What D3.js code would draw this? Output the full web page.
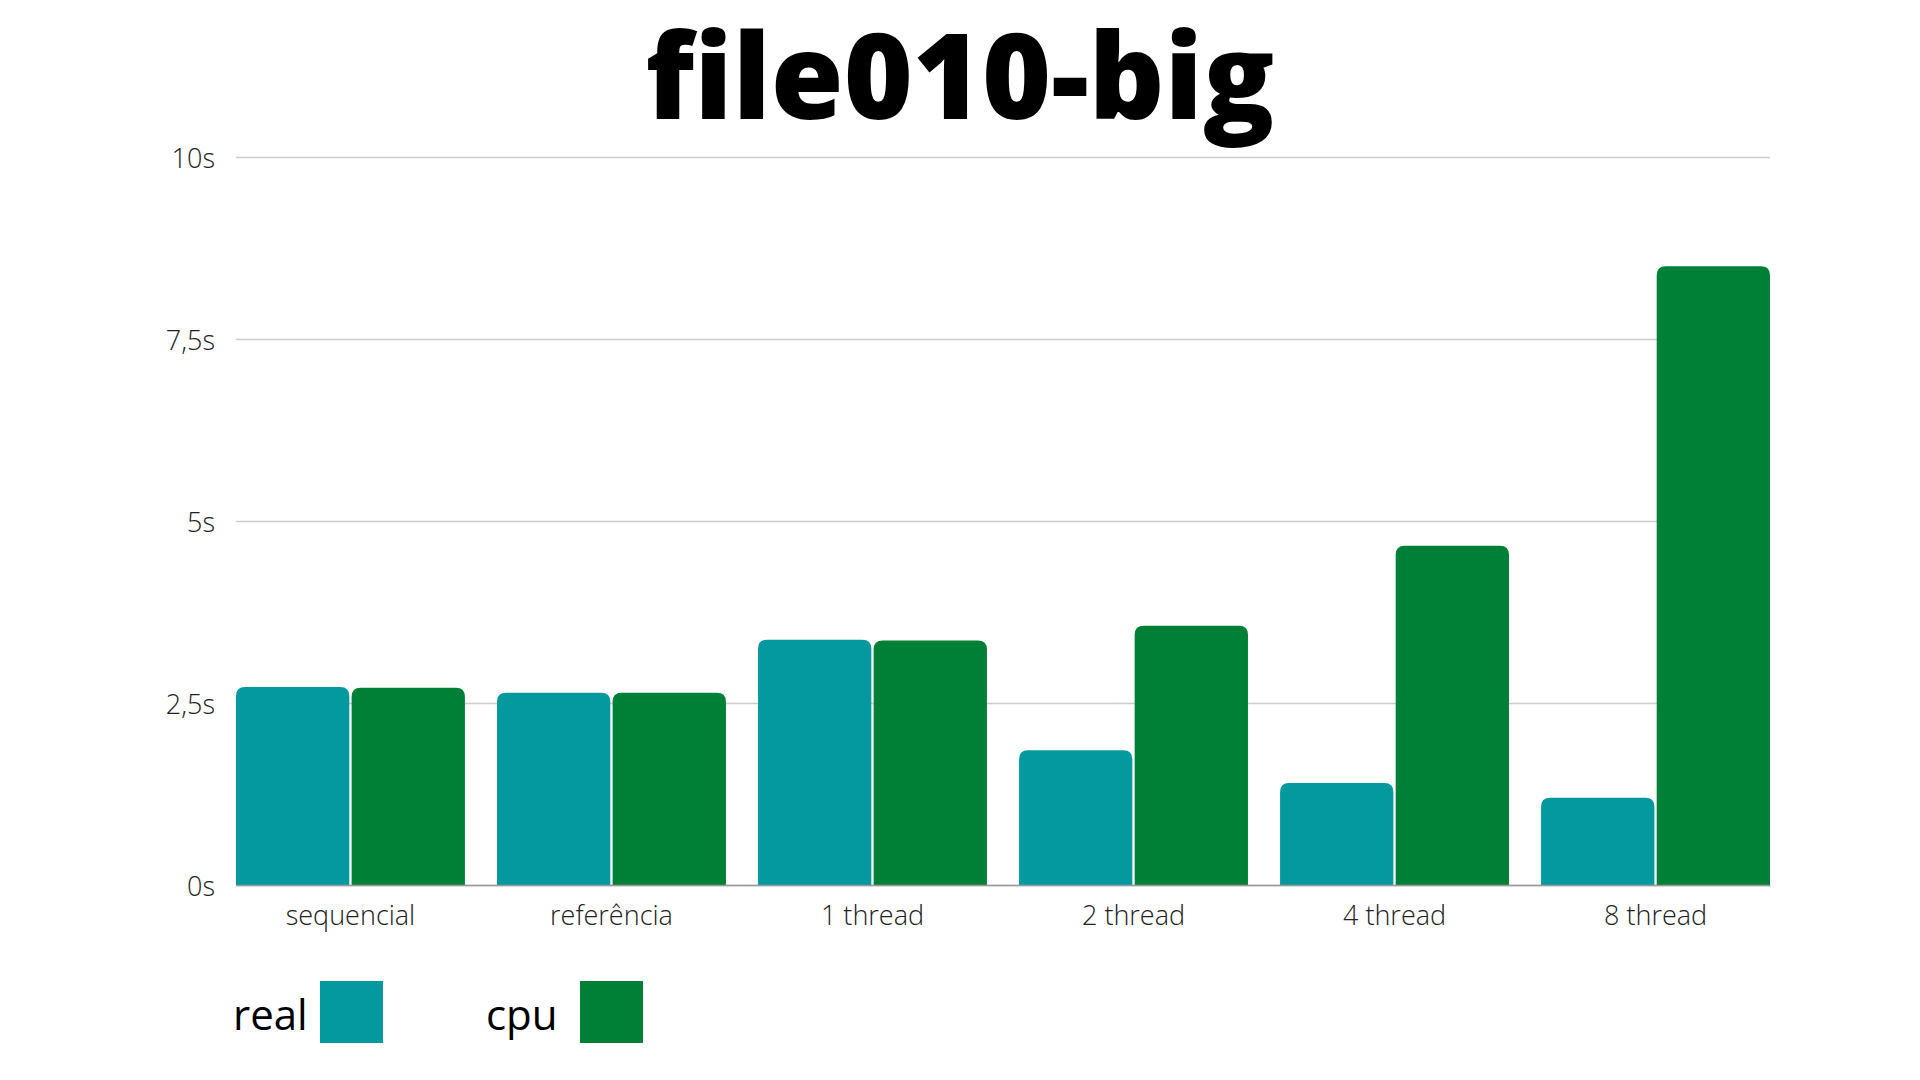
<!DOCTYPE html>
<html>
<head>
<meta charset="utf-8">
<script src="https://cdn.jsdelivr.net/npm/d3@7"></script>
<style>
  html, body { margin: 0; padding: 0; background: #fff; }
  svg { display: block; font-family: "Open Sans", sans-serif; }
</style>
</head>
<body>
<div id="chart"></div>
<script>
// data
var categories = ["sequencial", "referência", "1 thread", "2 thread", "4 thread", "8 thread"];
var realValues = [2.72, 2.64, 3.37, 1.85, 1.40, 1.20];
var cpuValues  = [2.71, 2.64, 3.36, 3.56, 4.66, 8.50];
var seriesNames = ["real", "cpu"];
var seriesColors = ["#03999e", "#008037"];
var yTicks = [0, 2.5, 5, 7.5, 10];
var yTickLabels = ["0s", "2,5s", "5s", "7,5s", "10s"];

var chartWidth = 1920;
var chartHeight = 1080;

var svg = d3.select("#chart")
    .append("svg")
    .attr("width", chartWidth)
    .attr("height", chartHeight);

var plot = {left: 236, right: 1770, top: 157, bottom: 885};

var xScale = d3.scaleBand()
    .domain(categories)
    .range([plot.left, plot.right])
    .paddingInner(0.123)
    .paddingOuter(0);

var xSub = d3.scaleBand()
    .domain(seriesNames)
    .range([0, xScale.bandwidth()])
    .paddingInner(0.02);

var yScale = d3.scaleLinear()
    .domain([0, 10])
    .range([plot.bottom, plot.top]);

// title
svg.append("text")
    .attr("x", chartWidth / 2)
    .attr("y", 119)
    .attr("text-anchor", "middle")
    .style("font-size", "118px")
    .style("font-weight", 800)
    .style("fill", "#000")
    .text("file010-big");

// gridlines + y labels
var yAxis = d3.axisLeft(yScale)
    .tickValues(yTicks)
    .tickSize(-(plot.right - plot.left))
    .tickPadding(21)
    .tickFormat((d, i) => yTickLabels[i]);

var yAxisGroup = svg.append("g")
    .attr("class", "yAxis")
    .attr("transform", "translate(" + plot.left + ",0)")
    .call(yAxis);
yAxisGroup.select(".domain").remove();
yAxisGroup.selectAll(".tick line")
    .attr("stroke", "#cccccc")
    .attr("stroke-width", 1.3);
yAxisGroup.selectAll(".tick text")
    .attr("dy", "0.4em")
    .style("font-family", "'Open Sans', sans-serif")
    .style("font-size", "27px")
    .style("font-weight", 300)
    .style("fill", "#222");

// bars
var data = categories.map((c, i) => ({cat: c, values: [realValues[i], cpuValues[i]]}));

function topRounded(x, y, w, h, r) {
    r = Math.min(r, h, w / 2);
    return "M" + x + "," + (y + h)
        + "V" + (y + r)
        + "Q" + x + "," + y + " " + (x + r) + "," + y
        + "H" + (x + w - r)
        + "Q" + (x + w) + "," + y + " " + (x + w) + "," + (y + r)
        + "V" + (y + h) + "Z";
}

var groups = svg.selectAll("g.group")
    .data(data)
    .enter()
    .append("g")
    .attr("class", "group")
    .attr("transform", d => "translate(" + xScale(d.cat) + ",0)");

groups.selectAll("path")
    .data(d => d.values.map((v, i) => ({name: seriesNames[i], value: v, color: seriesColors[i]})))
    .enter()
    .append("path")
    .attr("d", d => topRounded(xSub(d.name), yScale(d.value), xSub.bandwidth(),
        yScale(0) - yScale(d.value), 9))
    .attr("fill", d => d.color);

// x axis
var xAxis = d3.axisBottom(xScale).tickSize(0).tickPadding(21);
var xAxisGroup = svg.append("g")
    .attr("class", "xAxis")
    .attr("transform", "translate(0," + plot.bottom + ")")
    .call(xAxis);
xAxisGroup.select(".domain")
    .attr("stroke", "#999")
    .attr("stroke-width", 1.5);
xAxisGroup.selectAll(".tick text")
    .style("font-family", "'Open Sans', sans-serif")
    .style("font-size", "27px")
    .style("font-weight", 300)
    .style("fill", "#222");

// legend
var legendPos = [{tx: 233, rx: 320}, {tx: 486, rx: 580}];
var legend = svg.selectAll("g.legend")
    .data(seriesNames)
    .enter()
    .append("g")
    .attr("class", "legend");
legend.append("text")
    .attr("x", (d, i) => legendPos[i].tx)
    .attr("y", 1030)
    .style("font-size", "42px")
    .style("fill", "#000")
    .text(d => d);
legend.append("rect")
    .attr("x", (d, i) => legendPos[i].rx)
    .attr("y", 981)
    .attr("width", 63)
    .attr("height", 62)
    .attr("fill", (d, i) => seriesColors[i]);
</script>
</body>
</html>
